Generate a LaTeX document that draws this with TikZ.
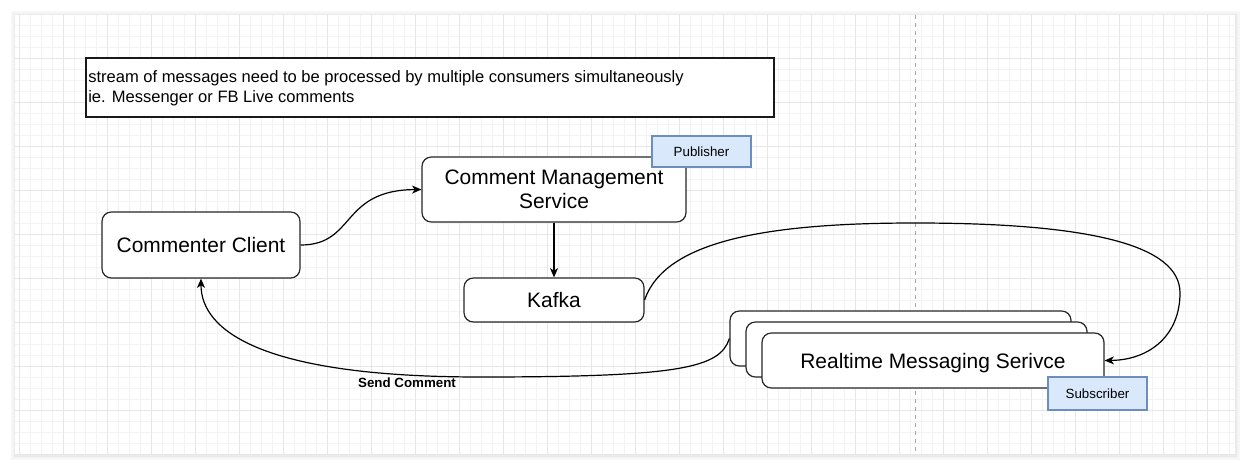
\documentclass[tikz,border=0pt]{standalone}
\usepackage{fontspec}
\setmainfont{Liberation Sans}
\usetikzlibrary{arrows.meta}
\definecolor{minorgrid}{HTML}{F3F3F3}
\definecolor{majorgrid}{HTML}{E6E6E6}
\definecolor{tagfill}{HTML}{DAE8FC}
\definecolor{tagdraw}{HTML}{6C8EBF}
\tikzset{
  box/.style={draw=black!85, line width=0.9pt, fill=white, rounded corners=7pt, inner sep=0pt, align=center, font=\fontsize{15.7pt}{18pt}\selectfont},
  tag/.style={draw=tagdraw, line width=0.8pt, fill=tagfill, inner sep=0pt, font=\fontsize{10pt}{12pt}\selectfont},
  conn/.style={line width=0.9pt, -{Stealth[length=7pt,width=6pt,inset=2pt]}},
}
\begin{document}
\begin{tikzpicture}[x=0.75pt,y=-0.75pt]
\useasboundingbox (0,0) rectangle (1250,471);
\fill[white] (0,0) rectangle (1250,471);
% page shadow
\fill[black!3] (11,11) rectangle (1240,460);
\fill[black!5] (13,13) rectangle (1238,458);
\fill[black!8] (14,14) rectangle (1237,457);
\fill[white] (15,15) rectangle (1235,455);
% grid
\foreach \i in {0,...,110} {\draw[minorgrid, line width=0.6pt] ({19+11*\i},15) -- ({19+11*\i},455);}
\foreach \j in {1,...,40} {\draw[minorgrid, line width=0.6pt] (15,{14+11*\j}) -- (1235,{14+11*\j});}
\foreach \i in {0,...,27} {\draw[majorgrid, line width=0.7pt] ({19+44*\i},15) -- ({19+44*\i},455);}
\foreach \j in {1,...,10} {\draw[majorgrid, line width=0.7pt] (15,{14+44*\j}) -- (1235,{14+44*\j});}
\draw[black!35, dashed, line width=0.6pt] (915,15) -- (915,455);

% note
\node[draw=black!90, line width=0.9pt, fill=white, minimum width=516pt, minimum height=44.25pt, inner sep=0pt] (note) at (430,87.5) {};
\node[anchor=west, align=left, inner sep=0pt, font=\fontsize{12.4pt}{15pt}\selectfont] (notetext) at (88,88) {stream of messages need to be processed by multiple consumers simultaneously\\ie. Messenger or FB Live comments};

% nodes
\node[box, minimum width=198pt, minimum height=48.75pt] (cms) at (554,189.5) {Comment Management\\Service};
\node[tag, minimum width=74.25pt, minimum height=23.25pt] (pub) at (701.5,151.5) {Publisher};
\node[box, minimum width=148.5pt, minimum height=49.5pt] (ccl) at (201,245) {Commenter Client};
\node[box, minimum width=135pt, minimum height=33pt] (kafka) at (554,300) {Kafka};
\node[box, minimum width=255.75pt, minimum height=41.25pt] (rms3) at (900.5,338.5) {};
\node[box, minimum width=255.75pt, minimum height=41.25pt] (rms2) at (916.5,349.5) {};
\node[box, minimum width=256.5pt, minimum height=41.25pt, text depth=0pt] (rms1) at (933,360.5) {Realtime Messaging Serivce};
\node[tag, minimum width=74.25pt, minimum height=24.75pt] (sub) at (1097.5,393.5) {Subscriber};

% connectors
\draw[conn] (ccl.east) .. controls (356,245) and (340,190) .. (cms.west);
\draw[conn] (cms.south) -- (kafka.north);
\coordinate (topk) at (915,223);
\coordinate (rightk) at (1180,293);
\draw[conn] (kafka.east) .. controls (665,240) and (770,223) .. (topk)
  .. controls (1090,223) and (1180,245) .. (rightk)
  .. controls (1180,335) and (1150,360) .. (rms1.east);
\coordinate (sendmid) at (480,377);
\draw[conn] (rms3.west) .. controls (720,368) and (680,377) .. (sendmid)
  .. controls (260,377) and (201,330) .. (ccl.south);
\node[font=\bfseries\fontsize{10pt}{12pt}\selectfont, inner sep=0pt] (sendlbl) at (407,383) {Send Comment};
\end{tikzpicture}
\end{document}
